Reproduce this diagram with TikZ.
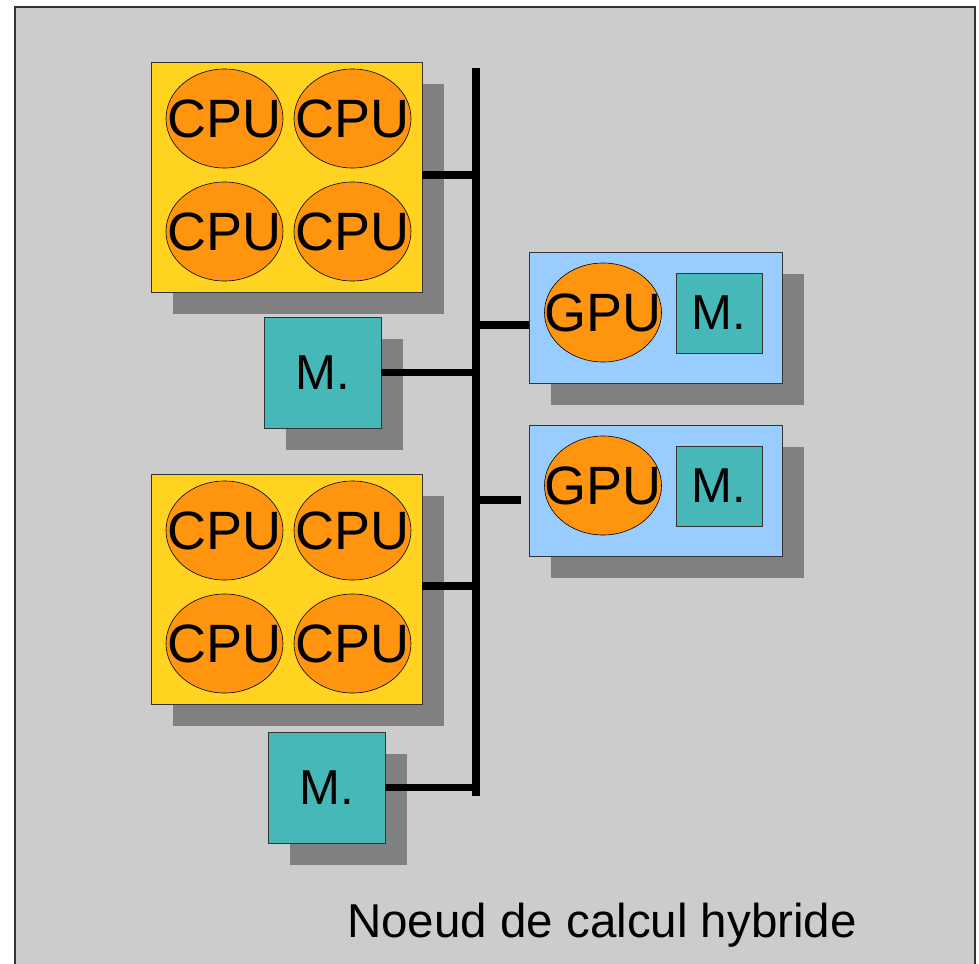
\documentclass[tikz,border=0pt]{standalone}
\usepackage{fontspec}
\setmainfont{Liberation Sans}
\usetikzlibrary{shadows,calc,shapes.geometric}

\definecolor{panelgray}{HTML}{CCCCCC}
\definecolor{shadegray}{HTML}{808080}
\definecolor{chipyellow}{HTML}{FFD320}
\definecolor{coreorange}{HTML}{FF950E}
\definecolor{memteal}{HTML}{47B8B8}
\definecolor{gpublue}{HTML}{99CCFF}
\definecolor{edgegray}{HTML}{333333}

% label of zero width, so the ellipse keeps its own size
\newcommand{\corelabel}[1]{\makebox[0pt][c]{#1}}

\tikzset{
  boxshadow/.style={drop shadow={shadow xshift=22pt, shadow yshift=-22pt, opacity=1, fill=shadegray}},
  cpuchip/.style={draw=edgegray, line width=0.8pt, fill=chipyellow, minimum width=271pt, minimum height=230pt, inner sep=0pt, boxshadow},
  gpucard/.style={draw=edgegray, line width=0.8pt, fill=gpublue, minimum width=253pt, minimum height=131pt, inner sep=0pt, boxshadow},
  membox/.style={draw=edgegray, line width=0.8pt, fill=memteal, minimum width=117pt, minimum height=111pt, inner sep=0pt, boxshadow,
    font=\fontsize{49}{49}\selectfont},
  innermem/.style={draw=edgegray, line width=0.8pt, fill=memteal, minimum width=86pt, minimum height=80pt, inner sep=0pt,
    font=\fontsize{49}{49}\selectfont},
  core/.style={ellipse, draw=black, line width=0.6pt, fill=coreorange, minimum width=117pt, minimum height=99pt, inner sep=0pt,
    font=\fontsize{54}{54}\selectfont},
  link/.style={line width=7.5pt, line cap=butt, black},
  busline/.style={line width=8pt, line cap=butt, black},
}

\begin{document}
\begin{tikzpicture}[x=1pt, y=-1pt]
  \useasboundingbox (0,0) rectangle (979,963);
  % panel
  \fill[white] (0,0) rectangle (979,963);
  \draw[draw=edgegray, line width=1.5pt, fill=panelgray] (15,7) rectangle (975,975);

  % processors
  \node[cpuchip] (cpuA) at (286.5,177) {};
  \node[cpuchip] (cpuB) at (286.5,589) {};
  \foreach \c/\y in {A/118.5, B/530.5} {
    \node[core] (core\c1) at (224.5,\y) {\corelabel{CPU}};
    \node[core] (core\c2) at (352.5,\y) {\corelabel{CPU}};
    \node[core] (core\c3) at (224.5,\y+113) {\corelabel{CPU}};
    \node[core] (core\c4) at (352.5,\y+113) {\corelabel{CPU}};
  }

  % main memory
  \node[membox] (memA) at (322.5,372.5) {M.};
  \node[membox] (memB) at (326.5,787.5) {M.};

  % accelerators
  \node[gpucard] (gpuA) at (655.5,317.5) {};
  \node[gpucard] (gpuB) at (655.5,490.5) {};
  \node[core] (gpucoreA) at (603,312.5) {\corelabel{GPU}};
  \node[core] (gpucoreB) at (603,485.5) {\corelabel{GPU}};
  \node[innermem] (gmemA) at (719,313) {M.};
  \node[innermem] (gmemB) at (719,486) {M.};

  % bus
  \coordinate (busTop) at (476,68);
  \coordinate (busBot) at (476,796);
  \coordinate (gpuAtap) at (529,325);
  \coordinate (gpuBtap) at (521,500);
  \draw[busline] (busTop) -- (busBot);
  \draw[link] ([yshift=2pt]cpuA.east) -- ([yshift=2pt]cpuA.east -| busTop);
  \draw[link] (memA.east) -- (memA.east -| busTop);
  \draw[link] ([yshift=3pt]cpuB.east) -- ([yshift=3pt]cpuB.east -| busTop);
  \draw[link] (memB.east) -- (memB.east -| busTop);
  \draw[link] (gpuAtap -| busTop) -- (gpuAtap);
  \draw[link] (gpuBtap -| busTop) -- (gpuBtap);

  % caption
  \node[anchor=base, inner sep=0pt, font=\fontsize{47.5}{47.5}\selectfont] (caption) at (602,937) {Noeud de calcul hybride};
\end{tikzpicture}
\end{document}
